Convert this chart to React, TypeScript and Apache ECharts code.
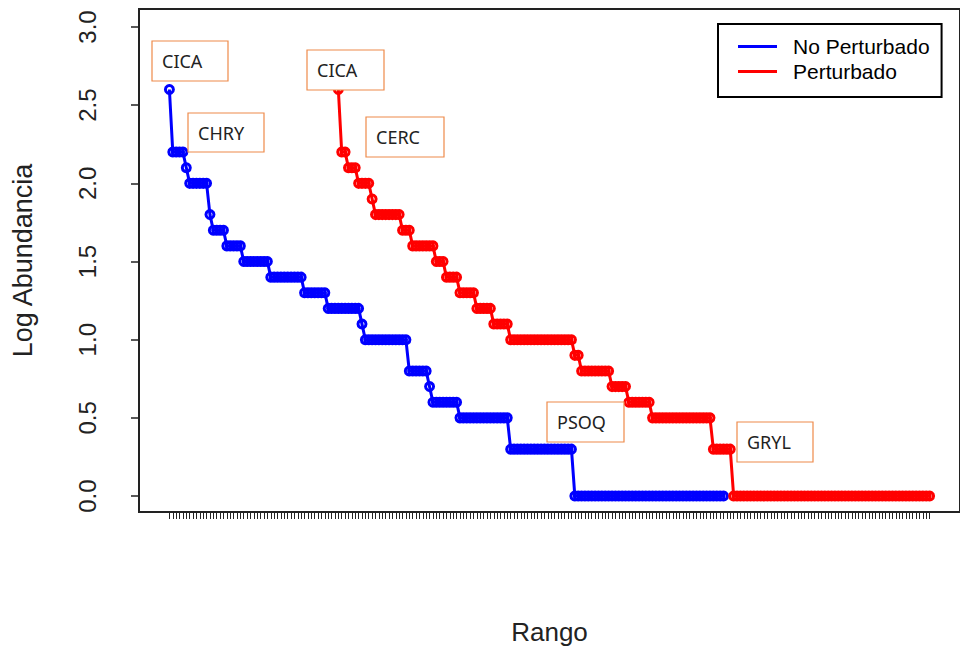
import React, { useEffect, useRef } from "react";
import * as echarts from "echarts";

// ---- data ----
const TOTAL_RANKS = 226;
const blueStartRank = 1;
const blueLevels = [2.6, 2.2, 2.1, 2.0, 1.8, 1.7, 1.6, 1.5, 1.4, 1.3, 1.2, 1.1, 1.0, 0.8, 0.7, 0.6, 0.5, 0.3, 0.0];
const blueCounts = [1, 4, 1, 6, 1, 4, 5, 8, 10, 7, 10, 1, 13, 6, 1, 8, 15, 19, 45];

const redStartRank = 51;
const redLevels = [2.6, 2.2, 2.1, 2.0, 1.9, 1.8, 1.7, 1.6, 1.5, 1.4, 1.3, 1.2, 1.1, 1.0, 0.9, 0.8, 0.7, 0.6, 0.5, 0.3, 0.0];
const redCounts = [1, 2, 3, 4, 1, 8, 3, 7, 3, 4, 5, 5, 5, 19, 2, 9, 5, 7, 18, 6, 59];

const yTickValues = [0, 0.5, 1.0, 1.5, 2.0, 2.5, 3.0];
const seriesNames = ["No Perturbado", "Perturbado"];
const annotationTexts = ["CICA", "CHRY", "CICA", "CERC", "PSOQ", "GRYL"];

// ---- layout (positions of the text boxes) ----
const annotationBoxes = [
  { x: 152, y: 41, w: 76, h: 40 },
  { x: 188, y: 113, w: 76, h: 39 },
  { x: 307, y: 50, w: 77, h: 40 },
  { x: 366, y: 117, w: 78, h: 40 },
  { x: 547, y: 402, w: 77, h: 40 },
  { x: 737, y: 422, w: 76, h: 40 },
];

function expandRuns(start: number, levels: number[], counts: number[]) {
  const out: [number, number][] = [];
  let r = start;
  levels.forEach((lv, i) => {
    for (let k = 0; k < counts[i]; k++) {
      out.push([r, lv]);
      r++;
    }
  });
  return out;
}

const BLUE = "#0000FF";
const RED = "#FF0000";
const AX = "#222222";
const FONT = "'Liberation Sans', Arial, sans-serif";

export default function App() {
  const ref = useRef<HTMLDivElement>(null);
  useEffect(() => {
    if (!ref.current) return;
    const chart = echarts.init(ref.current, null, { renderer: "svg" });
    const blueData = expandRuns(blueStartRank, blueLevels, blueCounts);
    const redData = expandRuns(redStartRank, redLevels, redCounts);
    const rankTicks = Array.from({ length: TOTAL_RANKS }, (_, i) => i + 1);
    const pad = 0.04 * (TOTAL_RANKS - 1);

    chart.setOption({
      animation: false,
      backgroundColor: "#ffffff",
      grid: {
        left: 139,
        top: 9,
        width: 825,
        height: 504,
        show: true,
        borderColor: AX,
        borderWidth: 2,
        backgroundColor: "transparent",
      },
      xAxis: {
        type: "value",
        min: 1 - pad,
        max: TOTAL_RANKS + pad,
        axisLine: { show: false, onZero: false },
        splitLine: { show: false },
        axisLabel: { show: false },
        axisTick: {
          show: true,
          customValues: rankTicks,
          length: 7,
          lineStyle: { color: AX, width: 1 },
        },
        name: "Rango",
        nameLocation: "middle",
        nameGap: 107,
        nameTextStyle: { fontSize: 26, fontFamily: FONT, color: AX },
      },
      yAxis: {
        type: "value",
        min: -0.102,
        max: 3.115,
        axisLine: { show: false, onZero: false },
        splitLine: { show: false },
        axisTick: {
          show: true,
          customValues: yTickValues,
          length: 8,
          lineStyle: { color: AX, width: 1.5 },
        },
        axisLabel: {
          customValues: yTickValues,
          rotate: 90,
          margin: 40,
          formatter: (v: number) => v.toFixed(1),
          fontSize: 24,
          fontFamily: FONT,
          color: AX,
        },
        name: "Log Abundancia",
        nameLocation: "middle",
        nameGap: 103,
        nameTextStyle: { fontSize: 27, fontFamily: FONT, color: AX },
      },
      legend: {
        orient: "vertical",
        left: 718,
        top: 24,
        padding: [12, 12, 15, 20],
        itemWidth: 39,
        itemHeight: 3,
        itemGap: 4,
        borderColor: "#000",
        borderWidth: 2,
        backgroundColor: "#fff",
        selectedMode: false,
        textStyle: {
          fontSize: 21,
          fontFamily: FONT,
          color: "#000",
          lineHeight: 21,
          padding: [0, 0, 0, 11],
        },
        data: [
          { name: seriesNames[0], icon: "rect", itemStyle: { color: BLUE, borderWidth: 0 } },
          { name: seriesNames[1], icon: "rect", itemStyle: { color: RED, borderWidth: 0 } },
        ],
      },
      series: [
        {
          type: "line",
          name: seriesNames[0],
          data: blueData,
          symbol: "circle",
          symbolSize: 8,
          showAllSymbol: true,
          silent: true,
          itemStyle: { color: "rgba(0,0,0,0)", borderColor: BLUE, borderWidth: 3 },
          lineStyle: { color: BLUE, width: 3 },
          z: 2,
        },
        {
          type: "line",
          name: seriesNames[1],
          data: redData,
          symbol: "circle",
          symbolSize: 8,
          showAllSymbol: true,
          silent: true,
          itemStyle: { color: "rgba(0,0,0,0)", borderColor: RED, borderWidth: 3 },
          lineStyle: { color: RED, width: 3 },
          z: 3,
        },
      ],
      graphic: annotationBoxes.map((b, i) => ({
        type: "group",
        x: b.x,
        y: b.y,
        z: 100,
        children: [
          {
            type: "rect",
            z: 100,
            shape: { x: 0, y: 0, width: b.w, height: b.h },
            style: { fill: "#fff", stroke: "#EE8A4A", lineWidth: 1.2 },
          },
          {
            type: "text",
            z: 101,
            x: 10,
            y: b.h / 2,
            style: {
              text: annotationTexts[i],
              fontSize: 18,
              fontFamily: "'Noto Sans', sans-serif",
              fill: "#222",
              verticalAlign: "middle",
              align: "left",
            },
          },
        ],
      })),
    });
    return () => chart.dispose();
  }, []);
  return (
    <div
      ref={ref}
      style={{ position: "fixed", left: 0, top: 0, width: 960, height: 650 }}
    />
  );
}
